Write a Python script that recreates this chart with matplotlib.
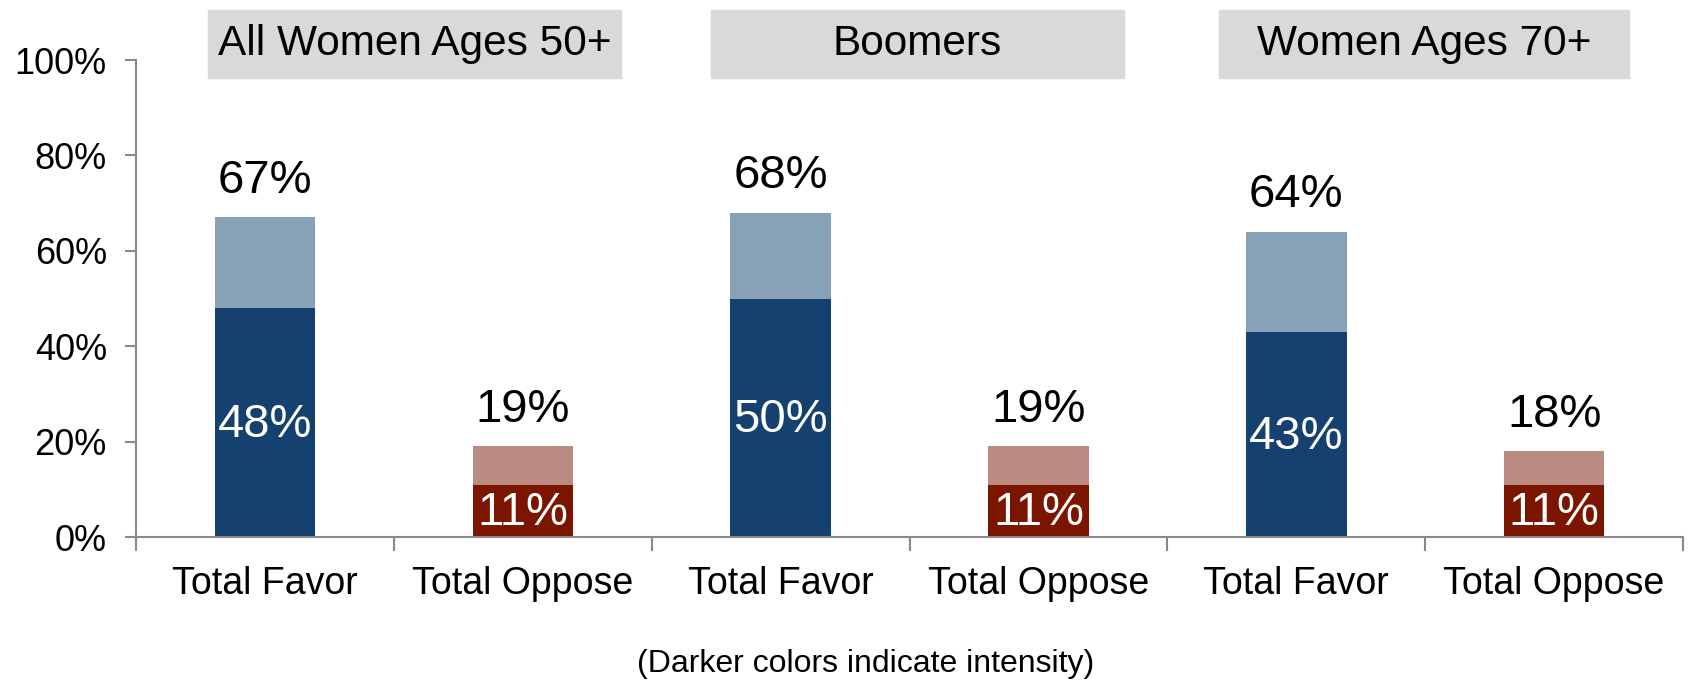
import numpy as np
import matplotlib.pyplot as plt

plt.rcParams['font.family'] = ['Liberation Sans', 'DejaVu Sans']

groups = ['All Women Ages 50+', 'Boomers', 'Women Ages 70+']
categories = ['Total Favor', 'Total Oppose'] * 3
totals = [67, 19, 68, 19, 64, 18]
strong = [48, 11, 50, 11, 43, 11]
kinds = ['favor', 'oppose'] * 3

dark = {'favor': '#14416f', 'oppose': '#7b1500'}
light = {'favor': '#87a1b7', 'oppose': '#bb8a80'}

x = np.arange(len(categories))
fig = plt.figure(figsize=(16.92, 6.82), dpi=100)
ax = fig.add_axes([0.0804, 0.2126, 0.9143, 0.6994])

w = 0.39
for i in range(len(x)):
    k = kinds[i]
    ax.bar(x[i], strong[i], w, color=dark[k], zorder=2)
    ax.bar(x[i], totals[i] - strong[i], w, bottom=strong[i], color=light[k], zorder=2)
    ax.text(x[i], totals[i] + 7.6, f'{totals[i]}%', ha='center', va='center', fontsize=34)
    ax.text(x[i], strong[i] / 2 - 0.5, f'{strong[i]}%', ha='center', va='center',
            fontsize=34, color='white')

# grey group header boxes above each pair of bars
box_spans = [(-0.22, 1.38), (1.73, 3.33), (3.70, 5.29)]
for (x0, x1), name in zip(box_spans, groups):
    ax.add_patch(plt.Rectangle((x0, 96.2), x1 - x0, 14.2, color='#d9d9d9',
                               clip_on=False, zorder=1))
    ax.text((x0 + x1) / 2, 103.3, name, ha='center', va='center', fontsize=30.5,
            clip_on=False)

ax.set_xlim(-0.5, len(x) - 0.5)
ax.set_ylim(0, 100)
ax.set_yticks(np.arange(0, 101, 20))
ax.set_yticklabels([f'{v}%' for v in range(0, 101, 20)])
ax.set_xticks(x)
ax.set_xticklabels(categories)
ax.set_xticks(np.arange(-0.5, len(x), 1), minor=True)

for s in ['top', 'right']:
    ax.spines[s].set_visible(False)
for s in ['left', 'bottom']:
    ax.spines[s].set_color('#898989')
    ax.spines[s].set_linewidth(1.5)

ax.tick_params(axis='y', length=8, width=1.5, color='#898989', pad=13)
ax.tick_params(axis='x', which='major', length=0, pad=21)
ax.tick_params(axis='x', which='minor', length=10, width=1.5, color='#898989')
for lab in ax.get_yticklabels():
    lab.set_fontsize(26)
for lab in ax.get_xticklabels():
    lab.set_fontsize(27)

fig.text(866 / 1692, 1 - 664 / 682, '(Darker colors indicate intensity)',
         ha='center', va='center', fontsize=23)

fig.savefig('out.png', dpi=100)
